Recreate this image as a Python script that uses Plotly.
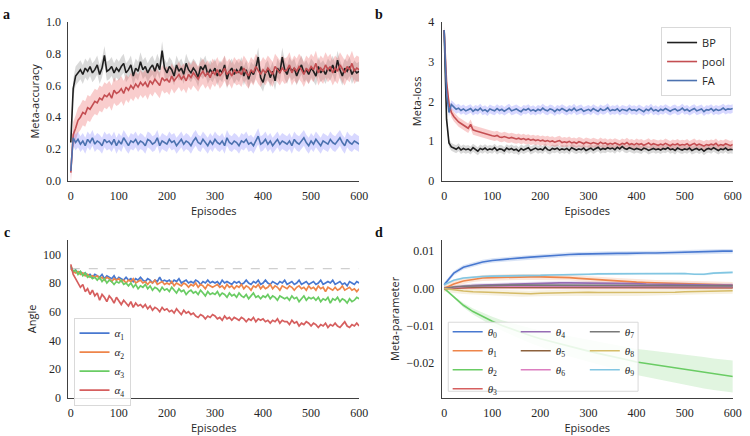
import plotly.graph_objects as go

# ---------------- data ----------------
EP5 = list(range(0, 601, 5))
EP20 = list(range(0, 601, 20))

acc_bp = [0.24, 0.58, 0.66, 0.68, 0.70, 0.67, 0.71, 0.69, 0.72, 0.68,
          0.70, 0.73, 0.67, 0.71, 0.79, 0.69, 0.70, 0.72, 0.68, 0.71,
          0.69, 0.72, 0.74, 0.68, 0.70, 0.73, 0.66, 0.71, 0.69, 0.75,
          0.70, 0.72, 0.68, 0.71, 0.73, 0.69, 0.74, 0.70, 0.82, 0.71,
          0.68, 0.72, 0.70, 0.66, 0.73, 0.69, 0.71, 0.67, 0.74, 0.70,
          0.68, 0.71, 0.69, 0.65, 0.72, 0.70, 0.73, 0.67, 0.70, 0.68,
          0.71, 0.66, 0.70, 0.68, 0.73, 0.64, 0.69, 0.71, 0.67, 0.70,
          0.68, 0.72, 0.66, 0.70, 0.64, 0.69, 0.67, 0.71, 0.78, 0.65,
          0.62, 0.68, 0.70, 0.65, 0.69, 0.63, 0.71, 0.68, 0.78, 0.70,
          0.67, 0.72, 0.69, 0.71, 0.66, 0.70, 0.73, 0.68, 0.70, 0.67,
          0.71, 0.69, 0.66, 0.72, 0.68, 0.70, 0.67, 0.71, 0.69, 0.73,
          0.68, 0.76, 0.70, 0.66, 0.71, 0.69, 0.72, 0.67, 0.70, 0.68,
          0.69]
acc_pool = [0.05, 0.29, 0.33, 0.38, 0.40, 0.43, 0.42, 0.46, 0.45, 0.48,
            0.50, 0.49, 0.52, 0.51, 0.54, 0.53, 0.55, 0.52, 0.57, 0.55,
            0.56, 0.58, 0.55, 0.59, 0.57, 0.60, 0.58, 0.61, 0.59, 0.62,
            0.60, 0.62, 0.59, 0.63, 0.61, 0.64, 0.62, 0.60, 0.65, 0.63,
            0.64, 0.62, 0.66, 0.63, 0.65, 0.67, 0.64, 0.66, 0.63, 0.67,
            0.65, 0.68, 0.66, 0.64, 0.67, 0.69, 0.66, 0.68, 0.65, 0.69,
            0.67, 0.70, 0.66, 0.68, 0.71, 0.67, 0.69, 0.66, 0.70, 0.68,
            0.69, 0.67, 0.71, 0.68, 0.66, 0.70, 0.68, 0.72, 0.69, 0.67,
            0.70, 0.68, 0.71, 0.69, 0.67, 0.72, 0.70, 0.68, 0.71, 0.69,
            0.70, 0.73, 0.68, 0.71, 0.69, 0.72, 0.70, 0.67, 0.71, 0.69,
            0.72, 0.70, 0.74, 0.68, 0.71, 0.69, 0.73, 0.70, 0.72, 0.68,
            0.71, 0.69, 0.73, 0.70, 0.68, 0.72, 0.70, 0.74, 0.69, 0.71,
            0.70]
acc_fa = [0.06, 0.27, 0.24, 0.26, 0.23, 0.25, 0.22, 0.26, 0.24, 0.27,
          0.23, 0.25, 0.24, 0.22, 0.26, 0.24, 0.25, 0.23, 0.26, 0.22,
          0.25, 0.23, 0.27, 0.24, 0.22, 0.25, 0.24, 0.26, 0.23, 0.25,
          0.24, 0.22, 0.26, 0.25, 0.23, 0.24, 0.27, 0.22, 0.25, 0.24,
          0.23, 0.26, 0.24, 0.25, 0.22, 0.24, 0.26, 0.23, 0.25, 0.24,
          0.22, 0.25, 0.27, 0.24, 0.23, 0.26, 0.24, 0.22, 0.25, 0.23,
          0.26, 0.24, 0.23, 0.25, 0.22, 0.27, 0.24, 0.23, 0.25, 0.24,
          0.22, 0.25, 0.24, 0.26, 0.23, 0.24, 0.22, 0.25, 0.28, 0.23,
          0.24, 0.26, 0.23, 0.25, 0.22, 0.24, 0.26, 0.23, 0.25, 0.24,
          0.23, 0.25, 0.22, 0.26, 0.24, 0.23, 0.25, 0.27, 0.24, 0.22,
          0.25, 0.23, 0.26, 0.24, 0.22, 0.25, 0.24, 0.23, 0.26, 0.24,
          0.23, 0.25, 0.27, 0.24, 0.22, 0.26, 0.24, 0.23, 0.25, 0.24,
          0.23]
acc_sd = {"BP": 0.06, "pool": 0.08, "FA": 0.05}

loss_bp = [3.80, 1.55, 0.95, 0.85, 0.82, 0.79, 0.84, 0.77, 0.81, 0.78,
           0.80, 0.76, 0.83, 0.79, 0.74, 0.81, 0.78, 0.82, 0.77, 0.80,
           0.78, 0.83, 0.76, 0.80, 0.79, 0.75, 0.82, 0.78, 0.81, 0.77,
           0.79, 0.74, 0.81, 0.77, 0.80, 0.83, 0.76, 0.79, 0.82, 0.78,
           0.80, 0.77, 0.84, 0.78, 0.76, 0.81, 0.79, 0.82, 0.77, 0.80,
           0.78, 0.81, 0.76, 0.83, 0.79, 0.77, 0.80, 0.78, 0.82, 0.76,
           0.79, 0.82, 0.77, 0.80, 0.84, 0.78, 0.81, 0.79, 0.83, 0.80,
           0.82, 0.78, 0.84, 0.80, 0.86, 0.81, 0.79, 0.83, 0.80, 0.78,
           0.81, 0.79, 0.77, 0.82, 0.80, 0.76, 0.79, 0.81, 0.78, 0.80,
           0.77, 0.81, 0.79, 0.83, 0.78, 0.80, 0.76, 0.82, 0.79, 0.77,
           0.80, 0.78, 0.82, 0.76, 0.79, 0.81, 0.77, 0.80, 0.74, 0.79,
           0.81, 0.78, 0.83, 0.79, 0.76, 0.80, 0.78, 0.82, 0.77, 0.79,
           0.78]
loss_pool = [3.80, 2.50, 1.95, 1.72, 1.62, 1.55, 1.48, 1.44, 1.40, 1.36,
             1.32, 1.42, 1.28, 1.26, 1.24, 1.22, 1.20, 1.19, 1.17, 1.15,
             1.13, 1.12, 1.14, 1.10, 1.09, 1.11, 1.08, 1.07, 1.09, 1.06,
             1.05, 1.07, 1.04, 1.06, 1.03, 1.05, 1.02, 1.04, 1.01, 1.03,
             1.00, 1.02, 0.99, 1.01, 0.98, 1.00, 0.97, 0.99, 1.01, 0.96,
             0.98, 0.96, 0.99, 0.95, 0.97, 0.94, 0.98, 0.96, 0.93, 0.97,
             0.95, 0.93, 0.96, 0.94, 0.92, 0.97, 0.93, 0.95, 0.91, 0.94,
             0.92, 0.95, 0.93, 0.90, 0.94, 0.92, 0.96, 0.91, 0.93, 0.90,
             0.94, 0.91, 0.93, 0.89, 0.92, 0.95, 0.90, 0.93, 0.91, 0.89,
             0.92, 0.90, 0.94, 0.91, 0.88, 0.92, 0.90, 0.93, 0.89, 0.91,
             0.90, 0.93, 0.88, 0.91, 0.94, 0.89, 0.92, 0.90, 0.87, 0.91,
             0.89, 0.92, 0.90, 0.94, 0.88, 0.91, 0.89, 0.93, 0.90, 0.88,
             0.91]
loss_fa = [3.80, 2.20, 1.72, 1.92, 1.86, 1.80, 1.83, 1.77, 1.81, 1.76,
           1.79, 1.82, 1.75, 1.80, 1.77, 1.83, 1.76, 1.79, 1.74, 1.81,
           1.78, 1.76, 1.82, 1.77, 1.80, 1.75, 1.79, 1.83, 1.76, 1.78,
           1.81, 1.77, 1.74, 1.80, 1.78, 1.82, 1.76, 1.79, 1.75, 1.80,
           1.77, 1.83, 1.78, 1.76, 1.81, 1.79, 1.74, 1.80, 1.77, 1.82,
           1.78, 1.75, 1.80, 1.77, 1.83, 1.76, 1.79, 1.81, 1.75, 1.78,
           1.80, 1.76, 1.82, 1.78, 1.75, 1.81, 1.77, 1.79, 1.84, 1.76,
           1.79, 1.77, 1.81, 1.75, 1.80, 1.78, 1.76, 1.82, 1.77, 1.79,
           1.76, 1.81, 1.78, 1.74, 1.80, 1.77, 1.83, 1.76, 1.79, 1.75,
           1.80, 1.77, 1.82, 1.78, 1.75, 1.79, 1.81, 1.76, 1.78, 1.83,
           1.77, 1.80, 1.75, 1.79, 1.82, 1.76, 1.78, 1.81, 1.74, 1.79,
           1.78, 1.82, 1.76, 1.80, 1.77, 1.79, 1.83, 1.78, 1.81, 1.80,
           1.82]
loss_sd = {"BP": 0.10, "pool": 0.12, "FA": 0.11}

angle_a1 = [91, 88, 89, 87, 88, 86, 87, 85, 86, 84,
            86, 85, 84, 86, 83, 85, 84, 83, 85, 82,
            84, 83, 82, 84, 82, 83, 81, 83, 82, 84,
            82, 81, 83, 82, 80, 82, 81, 84, 81, 82,
            81, 82, 80, 82, 81, 83, 80, 81, 82, 80,
            81, 80, 82, 81, 79, 81, 80, 82, 80, 81,
            80, 81, 79, 82, 80, 81, 80, 79, 81, 80,
            81, 79, 80, 82, 80, 79, 81, 80, 82, 79,
            80, 82, 80, 79, 81, 80, 79, 81, 80, 82,
            79, 80, 81, 79, 80, 82, 79, 80, 81, 79,
            80, 81, 79, 80, 82, 79, 80, 81, 80, 82,
            79, 80, 81, 79, 80, 78, 81, 80, 79, 81,
            80]
angle_a2 = [90, 88, 87, 88, 86, 87, 85, 86, 84, 85,
            84, 85, 83, 84, 82, 84, 83, 81, 83, 82,
            83, 81, 82, 80, 82, 81, 83, 80, 81, 82,
            80, 81, 79, 81, 80, 82, 79, 80, 81, 79,
            80, 79, 81, 78, 80, 79, 78, 80, 79, 77,
            79, 78, 80, 77, 79, 78, 76, 79, 78, 77,
            78, 79, 77, 78, 76, 79, 77, 78, 76, 78,
            77, 79, 76, 78, 77, 75, 78, 77, 79, 76,
            78, 76, 77, 79, 76, 78, 77, 75, 78, 77,
            76, 78, 77, 75, 77, 78, 76, 77, 75, 78,
            76, 77, 75, 78, 76, 77, 74, 77, 76, 75,
            77, 75, 76, 78, 75, 76, 77, 75, 76, 74,
            76]
angle_a3 = [92, 88, 89, 86, 88, 85, 87, 84, 85, 83,
            84, 82, 84, 81, 83, 80, 82, 81, 79, 81,
            80, 82, 79, 80, 78, 80, 77, 79, 76, 78,
            77, 79, 76, 78, 75, 77, 76, 74, 77, 75,
            76, 74, 77, 75, 73, 76, 74, 75, 72, 74,
            75, 73, 74, 72, 75, 73, 71, 74, 72, 73,
            72, 74, 71, 73, 72, 70, 73, 71, 72, 70,
            73, 71, 70, 72, 69, 71, 73, 70, 71, 69,
            71, 70, 72, 69, 71, 70, 68, 71, 70, 69,
            70, 68, 71, 69, 70, 67, 69, 71, 68, 70,
            69, 70, 68, 70, 67, 69, 68, 70, 66, 69,
            68, 70, 67, 69, 68, 66, 69, 67, 68, 70,
            69]
angle_a4 = [93, 86, 83, 80, 77, 79, 74, 76, 72, 75,
            71, 73, 68, 72, 70, 67, 71, 69, 66, 70,
            67, 65, 68, 66, 64, 67, 63, 66, 64, 65,
            63, 65, 62, 64, 61, 63, 62, 60, 63, 61,
            62, 60, 61, 59, 62, 60, 58, 61, 59, 60,
            58, 59, 57, 56, 58, 57, 55, 57, 56, 58,
            57, 55, 56, 54, 57, 55, 56, 54, 56, 55,
            54, 56, 55, 53, 55, 54, 56, 53, 55, 54,
            55, 53, 54, 52, 54, 53, 55, 52, 54, 53,
            53, 51, 54, 52, 53, 50, 52, 51, 53, 52,
            50, 52, 51, 49, 51, 50, 52, 49, 51, 50,
            52, 50, 49, 51, 53, 50, 49, 51, 50, 52,
            50]
ORTHO_ANGLE = 90

theta0 = [0.0010, 0.0041, 0.0057, 0.0065, 0.0071, 0.0075, 0.0078, 0.0080, 0.0082, 0.0084,
          0.0086, 0.0088, 0.0089, 0.0091, 0.0092, 0.0093, 0.0093, 0.0094, 0.0094, 0.0094,
          0.0095, 0.0095, 0.0095, 0.0096, 0.0096, 0.0097, 0.0097, 0.0098, 0.0099, 0.0100,
          0.0100]
theta1 = [0.0000, 0.0012, 0.0020, 0.0025, 0.0028, 0.0029, 0.0030, 0.0030, 0.0031, 0.0031,
          0.0031, 0.0031, 0.0030, 0.0029, 0.0027, 0.0025, 0.0023, 0.0022, 0.0020, 0.0019,
          0.0017, 0.0016, 0.0015, 0.0014, 0.0013, 0.0012, 0.0011, 0.0010, 0.0010, 0.0009,
          0.0009]
theta2 = [0.0000, -0.0023, -0.0045, -0.0062, -0.0076, -0.0088, -0.0099, -0.0109, -0.0118, -0.0127,
          -0.0135, -0.0142, -0.0149, -0.0156, -0.0162, -0.0168, -0.0174, -0.0179, -0.0185, -0.0191,
          -0.0197, -0.0201, -0.0205, -0.0209, -0.0213, -0.0218, -0.0222, -0.0226, -0.0230, -0.0233,
          -0.0236]
theta3 = [0.0000, 0.0001, 0.0002, 0.0002, 0.0003, 0.0003, 0.0003, 0.0004, 0.0004, 0.0004,
          0.0004, 0.0004, 0.0004, 0.0004, 0.0004, 0.0004, 0.0004, 0.0004, 0.0004, 0.0004,
          0.0003, 0.0003, 0.0003, 0.0003, 0.0003, 0.0003, 0.0003, 0.0002, 0.0002, 0.0002,
          0.0002]
theta4 = [0.0000, 0.0003, 0.0006, 0.0008, 0.0009, 0.0010, 0.0011, 0.0012, 0.0013, 0.0013,
          0.0014, 0.0014, 0.0015, 0.0015, 0.0015, 0.0015, 0.0015, 0.0014, 0.0014, 0.0013,
          0.0013, 0.0012, 0.0012, 0.0011, 0.0011, 0.0010, 0.0010, 0.0010, 0.0009, 0.0009,
          0.0009]
theta5 = [0.0000, 0.0002, 0.0003, 0.0004, 0.0004, 0.0004, 0.0005, 0.0005, 0.0005, 0.0005,
          0.0005, 0.0005, 0.0005, 0.0005, 0.0004, 0.0004, 0.0004, 0.0004, 0.0004, 0.0004,
          0.0004, 0.0004, 0.0004, 0.0004, 0.0003, 0.0003, 0.0003, 0.0003, 0.0003, 0.0003,
          0.0003]
theta6 = [0.0000, 0.0003, 0.0005, 0.0006, 0.0006, 0.0007, 0.0007, 0.0007, 0.0007, 0.0007,
          0.0007, 0.0007, 0.0007, 0.0007, 0.0007, 0.0007, 0.0007, 0.0007, 0.0006, 0.0006,
          0.0006, 0.0006, 0.0006, 0.0006, 0.0006, 0.0005, 0.0005, 0.0005, 0.0005, 0.0005,
          0.0005]
theta7 = [0.0000, 0.0004, 0.0006, 0.0007, 0.0008, 0.0008, 0.0009, 0.0009, 0.0009, 0.0009,
          0.0009, 0.0009, 0.0009, 0.0009, 0.0009, 0.0009, 0.0009, 0.0009, 0.0008, 0.0008,
          0.0008, 0.0008, 0.0008, 0.0008, 0.0008, 0.0007, 0.0007, 0.0007, 0.0007, 0.0007,
          0.0007]
theta8 = [0.0000, -0.0004, -0.0007, -0.0009, -0.0010, -0.0011, -0.0012, -0.0013, -0.0014, -0.0014,
          -0.0013, -0.0012, -0.0011, -0.0011, -0.0010, -0.0010, -0.0011, -0.0011, -0.0012, -0.0012,
          -0.0012, -0.0011, -0.0011, -0.0010, -0.0010, -0.0009, -0.0008, -0.0008, -0.0007, -0.0006,
          -0.0006]
theta9 = [0.0010, 0.0022, 0.0028, 0.0031, 0.0032, 0.0033, 0.0033, 0.0034, 0.0034, 0.0035,
          0.0035, 0.0036, 0.0036, 0.0037, 0.0038, 0.0038, 0.0039, 0.0039, 0.0040, 0.0040,
          0.0040, 0.0040, 0.0041, 0.0041, 0.0041, 0.0040, 0.0038, 0.0038, 0.0041, 0.0042,
          0.0043]
theta2_sd = [0.0000, 0.0003, 0.0006, 0.0008, 0.0010, 0.0012, 0.0014, 0.0016, 0.0018, 0.0020,
             0.0022, 0.0024, 0.0026, 0.0028, 0.0029, 0.0030, 0.0031, 0.0032, 0.0033, 0.0034,
             0.0035, 0.0036, 0.0037, 0.0038, 0.0039, 0.0040, 0.0041, 0.0042, 0.0042, 0.0043,
             0.0043]
theta_sd = [0.0006, 0.0008, None, 0.0004, 0.0005, 0.0004, 0.0004, 0.0004, 0.0008, 0.0003]

# ---------------- style ----------------
W, H = 750, 436
SERIF = "Liberation Serif"
SANS = "Open Sans"
TXT = "#262626"
C_BP, C_POOL, C_FA = "#1f1f1f", "#c44e52", "#4c72b0"
B_BP, B_POOL, B_FA = "rgba(0,0,0,0.15)", "rgba(235,90,90,0.30)", "rgba(90,90,255,0.24)"
MUTED = ["#4878d0", "#ee854a", "#6acc64", "#d65f5f", "#956cb4",
         "#8c613c", "#dc7ec0", "#797979", "#d5bb67", "#82c6e2"]


def rgba(hexc, a):
    h = hexc.lstrip("#")
    return "rgba(%d,%d,%d,%.2f)" % (int(h[0:2], 16), int(h[2:4], 16), int(h[4:6], 16), a)


fig = go.Figure()


def band(x, y, sd, color, xa, ya):
    n = min(len(x), len(y))
    x = x[:n]
    y = y[:n]
    if isinstance(sd, list):
        s = sd[:n]
    else:
        s = [sd] * n
    up = [v + e for v, e in zip(y, s)]
    lo = [v - e for v, e in zip(y, s)]
    fig.add_trace(go.Scatter(x=x + x[::-1], y=up + lo[::-1], fill="toself",
                             fillcolor=color, line=dict(width=0), mode="lines",
                             hoverinfo="skip", showlegend=False, xaxis=xa, yaxis=ya))


def line(x, y, color, name, xa, ya, legend=None, width=1.6, show=False):
    n = min(len(x), len(y))
    fig.add_trace(go.Scatter(x=x[:n], y=y[:n], mode="lines", name=name,
                             line=dict(color=color, width=width),
                             showlegend=show, legend=legend, xaxis=xa, yaxis=ya))


# panel a
band(EP5, acc_bp, acc_sd["BP"], B_BP, "x", "y")
band(EP5, acc_pool, acc_sd["pool"], B_POOL, "x", "y")
band(EP5, acc_fa, acc_sd["FA"], B_FA, "x", "y")
line(EP5, acc_bp, C_BP, "BP", "x", "y")
line(EP5, acc_pool, C_POOL, "pool", "x", "y")
line(EP5, acc_fa, C_FA, "FA", "x", "y")

# panel b
band(EP5, loss_bp, loss_sd["BP"], B_BP, "x2", "y2")
band(EP5, loss_pool, loss_sd["pool"], B_POOL, "x2", "y2")
band(EP5, loss_fa, loss_sd["FA"], B_FA, "x2", "y2")
line(EP5, loss_bp, C_BP, "BP", "x2", "y2", legend="legend", show=True)
line(EP5, loss_pool, C_POOL, "pool", "x2", "y2", legend="legend", show=True)
line(EP5, loss_fa, C_FA, "FA", "x2", "y2", legend="legend", show=True)

# panel c
fig.add_trace(go.Scatter(x=[EP5[0], EP5[-1]], y=[ORTHO_ANGLE, ORTHO_ANGLE], mode="lines",
                         line=dict(color="#cfcfcf", width=1.2, dash="dash"),
                         showlegend=False, hoverinfo="skip", xaxis="x3", yaxis="y3"))
for i, arr in enumerate([angle_a1, angle_a2, angle_a3, angle_a4]):
    line(EP5, arr, MUTED[i], "<i>α</i><sub>%d</sub>" % (i + 1), "x3", "y3",
         legend="legend2", show=True, width=1.7)

# panel d
thetas = [theta0, theta1, theta2, theta3, theta4, theta5, theta6, theta7, theta8, theta9]
for i, arr in enumerate(thetas):
    sd = theta2_sd if i == 2 else theta_sd[i]
    band(EP20, arr, sd, rgba(MUTED[i], 0.2), "x4", "y4")
for i, arr in enumerate(thetas):
    leg = "legend3" if i <= 3 else ("legend4" if i <= 6 else "legend5")
    line(EP20, arr, MUTED[i], "<i>θ</i><sub>%d</sub>" % i, "x4", "y4",
         legend=leg, show=True, width=1.6)


# ---------------- layout ----------------
def px(xp):
    return xp / W


def py(yp):
    return 1 - yp / H


def ax_style(**kw):
    d = dict(showline=True, linecolor="#404040", linewidth=1.2, showgrid=False,
             zeroline=False, ticks="", ticklabelstandoff=4,
             tickfont=dict(family=SERIF, size=12, color=TXT),
             title=dict(font=dict(family=SANS, size=11, color=TXT), standoff=4))
    d.update(kw)
    return d


XL = [px(68.3), px(363.0)]
XR = [px(446.7), px(741.7)]
YT = [py(179.3), py(15.7)]
YB = [py(403.7), py(240.7)]

LEG_FONT = dict(family=SERIF, size=11, color=TXT)

fig.update_layout(
    width=W, height=H, margin=dict(l=0, r=0, t=0, b=0),
    paper_bgcolor="white", plot_bgcolor="white",
    xaxis=ax_style(domain=XL, anchor="y", range=[-5, 600], dtick=100, title_text="Episodes"),
    yaxis=ax_style(domain=YT, anchor="x", range=[0, 1.0], dtick=0.2, tickformat=".1f",
                   title_text="Meta-accuracy"),
    xaxis2=ax_style(domain=XR, anchor="y2", range=[-5, 600], dtick=100, title_text="Episodes"),
    yaxis2=ax_style(domain=YT, anchor="x2", range=[0, 4], dtick=1, title_text="Meta-loss"),
    xaxis3=ax_style(domain=XL, anchor="y3", range=[-5, 600], dtick=100, title_text="Episodes"),
    yaxis3=ax_style(domain=YB, anchor="x3", range=[0, 110], dtick=20, title_text="Angle"),
    xaxis4=ax_style(domain=XR, anchor="y4", range=[-5, 600], dtick=100, title_text="Episodes"),
    yaxis4=ax_style(domain=YB, anchor="x4", range=[-0.0293, 0.0130], dtick=0.01,
                    tickformat=".2f", title_text="Meta-parameter"),
    legend=dict(x=px(669), y=py(20.7), xanchor="left", yanchor="top",
                bgcolor="rgba(255,255,255,0.85)", bordercolor="#d9d9d9", borderwidth=1,
                font=dict(family=SANS, size=11, color=TXT), tracegroupgap=0),
    legend2=dict(x=px(73.5), y=py(321), xanchor="left", yanchor="top",
                 bgcolor="rgba(255,255,255,0.85)", bordercolor="#d9d9d9", borderwidth=1,
                 font=LEG_FONT),
    legend3=dict(x=px(452.7), y=py(320.5), xanchor="left", yanchor="top",
                 bgcolor="rgba(0,0,0,0)", borderwidth=0, font=LEG_FONT),
    legend4=dict(x=px(521.7), y=py(320.5), xanchor="left", yanchor="top",
                 bgcolor="rgba(0,0,0,0)", borderwidth=0, font=LEG_FONT),
    legend5=dict(x=px(591.7), y=py(320.5), xanchor="left", yanchor="top",
                 bgcolor="rgba(0,0,0,0)", borderwidth=0, font=LEG_FONT),
    shapes=[dict(type="rect", xref="paper", yref="paper", layer="above",
                 x0=px(453.3), x1=px(645.7), y0=py(397), y1=py(325.7),
                 line=dict(color="#d9d9d9", width=1), fillcolor="rgba(255,255,255,0.85)")],
    showlegend=True,
)

for lbl, xx, yy in [("a", 6, 8), ("b", 383, 8), ("c", 6, 233), ("d", 383, 233)]:
    fig.add_annotation(text="<b>%s</b>" % lbl, x=px(xx), y=py(yy), xref="paper", yref="paper",
                       showarrow=False, xanchor="center", yanchor="middle",
                       font=dict(family=SERIF, size=14, color="#111"))

fig.write_html("out.html", config={"displayModeBar": False},
               post_script="document.body.style.margin='0px';document.body.style.overflow='hidden';")
